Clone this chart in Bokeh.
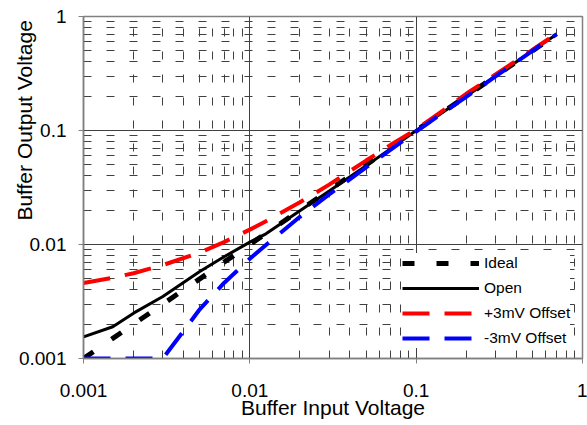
import numpy as np
from math import pi
from bokeh.plotting import figure
from bokeh.models import Range1d, FixedTicker, CustomJSTickFormatter, Legend, LegendItem
from bokeh.embed import file_html
from bokeh.resources import INLINE

# ---- data ----
x_in = [0.001, 0.0015, 0.002, 0.003, 0.005, 0.007, 0.01, 0.0125, 0.02, 0.03,
        0.05, 0.07, 0.1, 0.15, 0.2, 0.3, 0.5, 0.7]
ideal = [0.001, 0.0015, 0.002, 0.003, 0.005, 0.007, 0.01, 0.0125, 0.02, 0.03,
         0.05, 0.07, 0.1, 0.15, 0.2, 0.3, 0.5, 0.7]
open_loop = [0.00155, 0.0019, 0.0025, 0.0035, 0.0058, 0.0078, 0.0105, 0.0124, 0.0198, 0.0295,
             0.049, 0.069, 0.1, 0.15, 0.2, 0.3, 0.5, 0.7]
plus3 = [0.0046, 0.0051, 0.0056, 0.0066, 0.0085, 0.0105, 0.0135, 0.016, 0.0235, 0.0335,
         0.0545, 0.0745, 0.102, 0.155, 0.21, 0.31, 0.51, 0.71]
minus3 = [0.001, 0.001, 0.001, 0.001, 0.0027, 0.0046, 0.0075, 0.0099, 0.0175, 0.0275,
          0.0475, 0.0675, 0.098, 0.148, 0.197, 0.298, 0.5, 0.7]

series_names = ["Ideal", "Open", "+3mV Offset", "-3mV Offset"]
major_ticks = [0.001, 0.01, 0.1, 1]
x_title = "Buffer Input Voltage"
y_title = "Buffer Output Voltage"

FONT = "Liberation Sans"

minor_ticks = [k * d for d in [0.001, 0.01, 0.1] for k in range(2, 10)]

p = figure(width=587, height=425, x_axis_type="log", y_axis_type="log",
           x_range=Range1d(0.001, 1), y_range=Range1d(0.001, 1),
           output_backend="svg", toolbar_location=None,
           min_border_left=83, min_border_right=5, min_border_top=16, min_border_bottom=67)
p.background_fill_color = "white"
p.border_fill_color = "white"
p.outline_line_color = "#808080"
p.outline_line_width = 1.5

for ax in (p.xaxis[0], p.yaxis[0]):
    ax.ticker = FixedTicker(ticks=major_ticks, minor_ticks=minor_ticks)
    ax.formatter = CustomJSTickFormatter(code="return String(tick);")
    ax.major_label_text_font = FONT
    ax.major_label_text_font_size = "19px"
    ax.major_label_text_color = "black"
    ax.axis_line_color = "#808080"
    ax.axis_line_width = 1.5
    ax.major_tick_line_color = "#808080"
    ax.major_tick_out = 5
    ax.major_tick_in = 0
    ax.minor_tick_line_color = None
    ax.axis_label_text_font = FONT
    ax.axis_label_text_font_size = "21px"
    ax.axis_label_text_font_style = "normal"
    ax.axis_label_text_color = "black"

p.xaxis.major_label_standoff = 20
p.yaxis.major_label_standoff = 12
p.xaxis.axis_label = x_title
p.xaxis.axis_label_standoff = -4

# y title sits in the upper part of the axis (as in the reference): pad its
# start with no-break spaces so the visible words move toward the top
yax = p.yaxis[0]
yax.axis_label = "\u00a0" * 23 + y_title
yax.axis_label_standoff = -20

for g in (p.xgrid[0], p.ygrid[0]):
    g.ticker = FixedTicker(ticks=major_ticks, minor_ticks=minor_ticks)
    g.grid_line_color = "#404040"
    g.grid_line_width = 1
    g.minor_grid_line_color = "#404040"
    g.minor_grid_line_width = 1
    g.minor_grid_line_dash = "8 15"

r_ideal = p.line(x_in, ideal, line_color="black", line_width=5, line_dash="12 22")
r_open = p.line(x_in, open_loop, line_color="black", line_width=3)
r_plus = p.line(x_in, plus3, line_color="#FF0000", line_width=4, line_dash="27 15")
r_minus = p.line(x_in, minus3, line_color="#0000FF", line_width=4, line_dash="27 15")

legend = Legend(items=[LegendItem(label=series_names[0], renderers=[r_ideal]),
                       LegendItem(label=series_names[1], renderers=[r_open]),
                       LegendItem(label=series_names[2], renderers=[r_plus]),
                       LegendItem(label=series_names[3], renderers=[r_minus])],
                location=(319, 10))
legend.background_fill_color = "white"
legend.background_fill_alpha = 1
legend.border_line_color = None
legend.label_text_font = FONT
legend.label_text_font_size = "15.5px"
legend.label_text_color = "black"
legend.glyph_width = 77
legend.glyph_height = 20
legend.label_height = 20
legend.spacing = 5
legend.padding = 9
legend.margin = 0
legend.label_standoff = 5
p.add_layout(legend, "center")

open("out.html", "w").write(file_html(p, INLINE))
